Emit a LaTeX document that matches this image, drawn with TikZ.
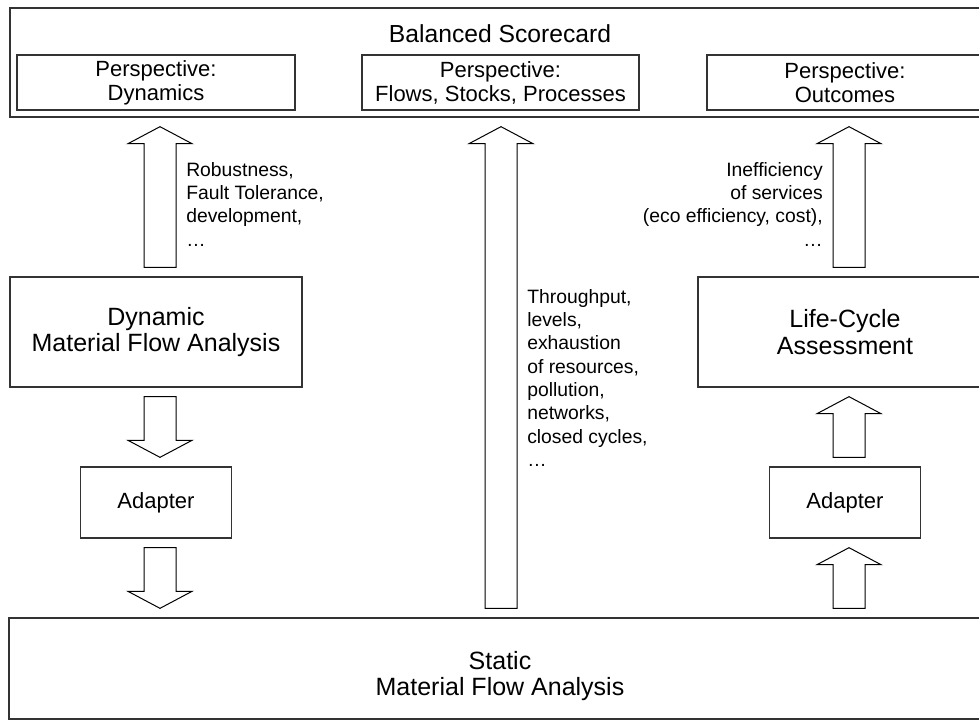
\documentclass[tikz,border=0pt]{standalone}
\usepackage{fontspec}
\setmainfont{Liberation Sans}
\usetikzlibrary{calc}

\begin{document}
\begin{tikzpicture}[x=0.75pt, y=-0.75pt,
  box/.style={draw=black!80, line width=1pt, rectangle, inner sep=0pt, align=center},
  small/.style={font=\fontsize{16.5pt}{18pt}\selectfont},
  big/.style={font=\fontsize{18.75pt}{20pt}\selectfont, align=center},
  note/.style={font=\fontsize{14.5pt}{17.5pt}\selectfont, inner sep=0pt},
  blockarrow/.style={draw=black, line width=0.75pt, fill=white,
    to path={let \p1=($(\tikztostart)!6.75pt!(\tikztotarget)$),
                 \p2=($(\tikztotarget)!6.75pt!(\tikztostart)$),
                 \p3=($(\p2)!12.75pt!(\p1)$) in
      ($(\p1)!12pt!90:(\p2)$) -- ($(\p3)!12pt!90:(\p2)$) -- ($(\p3)!24pt!90:(\p2)$)
      -- (\p2) -- ($(\p3)!24pt!-90:(\p2)$) -- ($(\p3)!12pt!-90:(\p2)$)
      -- ($(\p1)!12pt!-90:(\p2)$) -- cycle}}]

  \useasboundingbox (0,0) rectangle (979,725);
  \clip (0,0) rectangle (979,725);

  % Balanced scorecard and its perspectives
  \node[box, minimum width=980*0.75pt, minimum height=109*0.75pt] (score) at (500,62.5) {};
  \node[font=\fontsize{18.5pt}{20pt}\selectfont] (title) at (500,34) {Balanced Scorecard};
  \node[box, small, minimum width=278*0.75pt, minimum height=55*0.75pt] (persDyn) at (156,82.5) {Perspective:\\Dynamics};
  \node[box, small, minimum width=277*0.75pt, minimum height=55*0.75pt] (persFlow) at (500.5,82.5) {Perspective:\\Flows, Stocks, Processes};
  \node[box, small, minimum width=276*0.75pt, minimum height=55*0.75pt] (persOut) at (845,82.5) {Perspective:\\Outcomes};

  % Analysis boxes
  \node[box, big, minimum width=292*0.75pt, minimum height=110*0.75pt] (dmfa) at (156,332) {Dynamic\\Material Flow Analysis};
  \node[box, big, minimum width=294*0.75pt, minimum height=110*0.75pt] (lca) at (845,332) {Life-Cycle\\Assessment};
  \node[box, small, minimum width=151*0.75pt, minimum height=71*0.75pt] (adaptL) at (156,502.5) {Adapter};
  \node[box, small, minimum width=151*0.75pt, minimum height=71*0.75pt] (adaptR) at (845,502.5) {Adapter};
  \node[box, minimum width=982*0.75pt, minimum height=101*0.75pt] (static) at (500,668.5) {};
  \node[big] (staticText) at (500,676) {Static\\Material Flow Analysis};

  % Block arrows
  \draw[blockarrow] ($(dmfa.north)+(4,0)$) to ($(dmfa.north |- score.south)+(4,0)$);
  \draw[blockarrow] ($(dmfa.south)+(4,0)$) to ($(adaptL.north)+(4,0)$);
  \draw[blockarrow] ($(adaptL.south)+(4,0)$) to ($(adaptL.south |- static.north)+(4,0)$);
  \draw[blockarrow] ($(static.north)+(1,0)$) to ($(static.north |- score.south)+(1,0)$);
  \draw[blockarrow] ($(lca.north)+(4,0)$) to ($(lca.north |- score.south)+(4,0)$);
  \draw[blockarrow] ($(adaptR.north)+(4,0)$) to ($(lca.south)+(4,0)$);
  \draw[blockarrow] ($(adaptR.south |- static.north)+(4,0)$) to ($(adaptR.south)+(4,0)$);

  % Indicators
  \node[note, anchor=north west, align=left] (dynNote) at (186,162) {Robustness,\\Fault Tolerance,\\development,\\…};
  \node[note, anchor=north west, align=left] (flowNote) at (527,289) {Throughput,\\levels,\\exhaustion\\of resources,\\pollution,\\networks,\\closed cycles,\\…};
  \node[note, anchor=north east, align=right] (outNote) at (823,162) {Inefficiency\\of services\\(eco efficiency, cost),\\…};
\end{tikzpicture}
\end{document}
